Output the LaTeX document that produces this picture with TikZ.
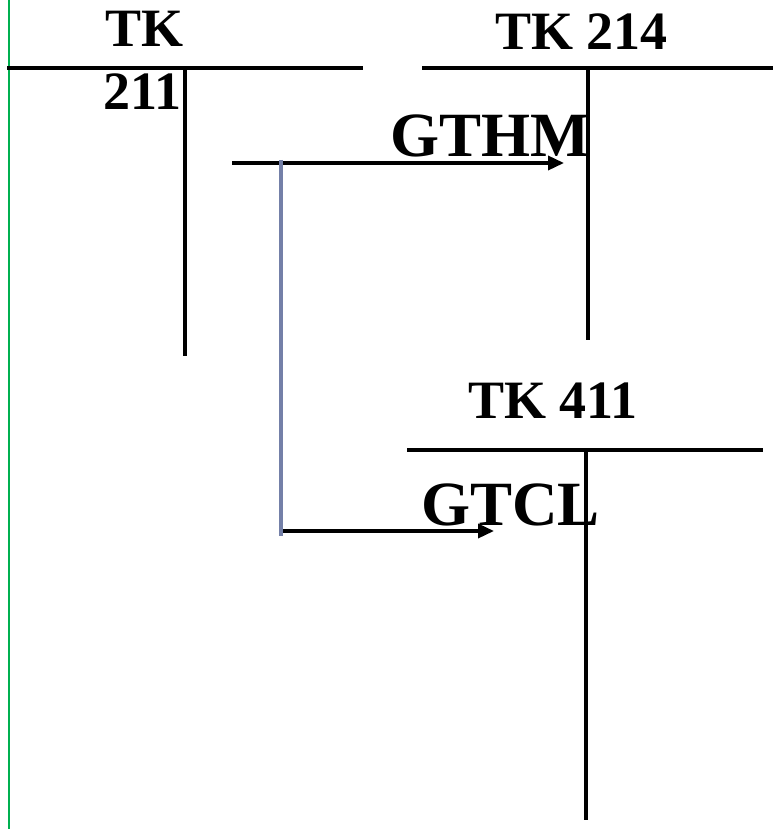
\documentclass[tikz,border=0pt]{standalone}
\usepackage{fontspec}
\setmainfont{Liberation Serif}
\usetikzlibrary{arrows.meta}
\definecolor{slate}{HTML}{7480A8}
\definecolor{greenline}{HTML}{00B050}
\tikzset{
  acct/.style={line width=4pt, black},
  flow/.style={line width=3.5pt, black, -{Triangle[length=16pt,width=14pt]}},
  lbl/.style={inner sep=0pt, anchor=base west, font=\bfseries\fontsize{54}{63}\selectfont},
  big/.style={inner sep=0pt, anchor=base west, font=\bfseries\fontsize{63}{70}\selectfont},
}
\begin{document}
\begin{tikzpicture}[x=1pt,y=-1pt]
\useasboundingbox (0,0) rectangle (773,829);
% left green rule
\draw[greenline, line width=2.5pt] (9,0) -- (9,829);
% TK 211
\coordinate (a1l) at (7,68); \coordinate (a1r) at (363,68);
\coordinate (a1t) at (185,68); \coordinate (a1b) at (185,356);
\draw[acct] (a1l) -- (a1r);
\draw[acct] (a1t) -- (a1b);
\node[lbl] (tk211a) at (105,47) {TK};
\node[lbl] (tk211b) at (103,110) {211};
% TK 214
\coordinate (a2l) at (422,68); \coordinate (a2r) at (773,68);
\coordinate (a2t) at (588,68); \coordinate (a2b) at (588,340);
\node[lbl] (tk214) at (495,50) {TK 214};
\node[big] (gthm) at (390,157) {GTHM};
\draw[acct] (a2l) -- (a2r);
\draw[acct] (a2t) -- (a2b);
% TK 411
\coordinate (a3l) at (407,450); \coordinate (a3r) at (763,450);
\coordinate (a3t) at (586,450); \coordinate (a3b) at (586,820);
\node[lbl] (tk411) at (468,418) {TK 411};
\node[big] (gtcl) at (421,525) {GTCL};
\draw[acct] (a3l) -- (a3r);
\draw[acct] (a3t) -- (a3b);
% flows
\coordinate (f1s) at (232,163); \coordinate (f1e) at (564,163);
\coordinate (bt) at (281,160); \coordinate (bb) at (281,536);
\coordinate (f2s) at (281,531); \coordinate (f2e) at (494,531);
\draw[flow] (f1s) -- (f1e);
\draw[flow] (f2s) -- (f2e);
\draw[slate, line width=4pt] (bt) -- (bb);
\end{tikzpicture}
\end{document}
